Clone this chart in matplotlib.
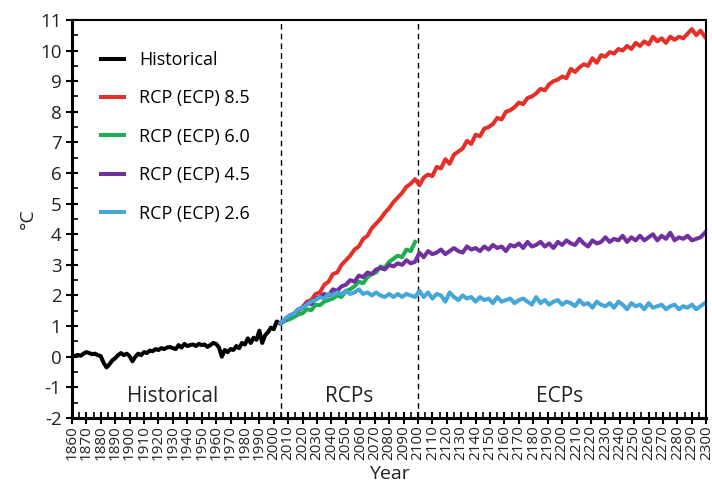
import numpy as np
import matplotlib.pyplot as plt
from matplotlib.ticker import MultipleLocator

# historical, every 2 years 1860-2004
hist_years = np.arange(1860, 2005, 2)
historical = [0.05, 0.02, 0.06, 0.03, 0.10, 0.15, 0.12, 0.08, 0.10, 0.05,
              0.02, -0.20, -0.35, -0.25, -0.12, -0.05, 0.05, 0.12, 0.05, 0.10,
              0.02, -0.15, 0.00, 0.10, 0.05, 0.15, 0.12, 0.20, 0.18, 0.25,
              0.22, 0.28, 0.25, 0.30, 0.32, 0.28, 0.25, 0.38, 0.30, 0.42,
              0.35, 0.38, 0.40, 0.35, 0.42, 0.38, 0.40, 0.32, 0.38, 0.45,
              0.42, 0.30, 0.00, 0.22, 0.15, 0.25, 0.22, 0.35, 0.28, 0.45,
              0.40, 0.60, 0.45, 0.62, 0.55, 0.85, 0.45, 0.70, 0.80, 0.95,
              0.90, 1.15, 1.10]

# projections, every 3 years 2005-2299
proj_years = np.arange(2005, 2300, 3)
rcp85 = [1.10, 1.20, 1.30, 1.35, 1.50, 1.62, 1.80, 1.85, 2.05, 2.10,
         2.35, 2.45, 2.70, 2.75, 3.00, 3.15, 3.30, 3.50, 3.60, 3.85,
         3.95, 4.20, 4.35, 4.50, 4.70, 4.85, 5.05, 5.20, 5.35, 5.55,
         5.65, 5.80, 5.60, 5.85, 5.95, 5.90, 6.20, 6.15, 6.45, 6.30,
         6.60, 6.70, 6.80, 7.05, 6.95, 7.25, 7.20, 7.45, 7.50, 7.60,
         7.80, 7.75, 8.00, 8.05, 8.15, 8.30, 8.25, 8.45, 8.50, 8.60,
         8.75, 8.70, 8.90, 9.00, 9.05, 9.15, 9.10, 9.40, 9.30, 9.45,
         9.55, 9.50, 9.75, 9.60, 9.85, 9.80, 9.95, 9.90, 10.05, 10.00,
         10.15, 10.05, 10.25, 10.15, 10.30, 10.20, 10.45, 10.30, 10.40, 10.25,
         10.45, 10.35, 10.45, 10.40, 10.55, 10.70, 10.50, 10.65, 10.45]
rcp60 = [1.10, 1.18, 1.22, 1.30, 1.38, 1.42, 1.55, 1.52, 1.70, 1.68,
         1.80, 1.85, 1.90, 2.00, 1.95, 2.15, 2.20, 2.30, 2.45, 2.40,
         2.60, 2.70, 2.75, 2.95, 2.90, 3.10, 3.20, 3.30, 3.25, 3.50,
         3.45, 3.75]
rcp45 = [1.10, 1.22, 1.35, 1.40, 1.55, 1.60, 1.75, 1.72, 1.90, 1.95,
         2.05, 2.00, 2.20, 2.15, 2.30, 2.35, 2.50, 2.45, 2.65, 2.60,
         2.75, 2.70, 2.85, 2.90, 2.85, 3.00, 2.95, 3.05, 3.00, 3.15,
         3.05, 3.10, 3.40, 3.25, 3.45, 3.35, 3.40, 3.50, 3.35, 3.45,
         3.55, 3.45, 3.40, 3.60, 3.50, 3.55, 3.45, 3.60, 3.50, 3.65,
         3.55, 3.60, 3.45, 3.65, 3.60, 3.70, 3.55, 3.75, 3.60, 3.65,
         3.75, 3.60, 3.70, 3.55, 3.75, 3.65, 3.80, 3.70, 3.65, 3.85,
         3.70, 3.60, 3.80, 3.70, 3.75, 3.90, 3.75, 3.85, 3.80, 3.95,
         3.75, 3.90, 3.80, 3.95, 3.80, 3.90, 4.00, 3.80, 3.95, 3.85,
         4.05, 3.80, 3.90, 3.85, 3.95, 3.80, 3.85, 3.90, 4.05]
rcp26 = [1.10, 1.25, 1.35, 1.40, 1.55, 1.60, 1.70, 1.80, 1.85, 1.95,
         1.90, 2.05, 2.00, 2.10, 2.05, 2.15, 2.05, 2.10, 2.20, 2.05,
         2.10, 2.00, 2.10, 2.00, 1.95, 2.05, 1.95, 2.05, 1.95, 2.05,
         2.00, 1.95, 2.15, 1.95, 2.10, 1.90, 2.05, 2.00, 1.80, 2.10,
         1.95, 1.85, 2.00, 1.90, 1.95, 1.80, 1.95, 1.85, 1.90, 1.75,
         1.95, 1.80, 1.85, 1.90, 1.75, 1.85, 1.90, 1.80, 1.70, 1.95,
         1.75, 1.85, 1.70, 1.80, 1.85, 1.70, 1.80, 1.75, 1.65, 1.85,
         1.70, 1.75, 1.60, 1.80, 1.70, 1.65, 1.75, 1.60, 1.80, 1.70,
         1.55, 1.75, 1.65, 1.70, 1.55, 1.75, 1.60, 1.65, 1.70, 1.55,
         1.65, 1.70, 1.55, 1.65, 1.60, 1.70, 1.55, 1.65, 1.75]

period_bounds = [2005, 2100]
period_labels = ["Historical", "RCPs", "ECPs"]
period_label_x = [1930, 2052, 2198]

plt.rcParams['font.family'] = ['Open Sans', 'DejaVu Sans']
plt.rcParams['axes.unicode_minus'] = False

fig = plt.figure(figsize=(7.12, 4.86), dpi=100)
ax = fig.add_axes([0.101, 0.140, 0.891, 0.819])

lw = 2.9
ax.plot(hist_years, historical, color="black", lw=lw, label="Historical")
ax.plot(proj_years, rcp85, color="#e5302a", lw=lw, label="RCP (ECP) 8.5")
ax.plot(proj_years[:len(rcp60)], rcp60, color="#1fae4f", lw=lw, label="RCP (ECP) 6.0")
ax.plot(proj_years, rcp45, color="#7030a0", lw=lw, label="RCP (ECP) 4.5")
ax.plot(proj_years, rcp26, color="#45a6d9", lw=lw, label="RCP (ECP) 2.6")

for b in period_bounds:
    ax.axvline(b, color="black", lw=1, ls=(0, (4, 3)), zorder=1)

for lab, x in zip(period_labels, period_label_x):
    ax.text(x, -1.3, lab, ha="center", va="center", fontsize=15, color="#222222")

ax.set_xlim(1860, 2300)
ax.set_ylim(-2, 11)
ax.xaxis.set_major_locator(MultipleLocator(10))
ax.xaxis.set_minor_locator(MultipleLocator(5))
ax.yaxis.set_major_locator(MultipleLocator(1))
ax.yaxis.set_minor_locator(MultipleLocator(0.5))
ax.tick_params(axis="x", which="major", direction="inout", length=8, width=1.5,
               labelsize=11, rotation=90, pad=1, labelcolor="#222222")
ax.tick_params(axis="y", which="major", direction="inout", length=9, width=1.5,
               labelsize=13.5, pad=3, labelcolor="#222222")
ax.tick_params(which="minor", direction="in", length=4, width=1.2)

for side in ["left", "bottom"]:
    ax.spines[side].set_linewidth(2.2)
for side in ["top", "right"]:
    ax.spines[side].set_linewidth(1.5)

ax.set_xlabel("Year", fontsize=14, labelpad=4, color="#222222")
ax.set_ylabel("°C", fontsize=14, labelpad=2, color="#222222")

ax.legend(loc="upper left", frameon=False, fontsize=13, handlelength=1.3,
          labelspacing=1.13, bbox_to_anchor=(0.02, 0.963))

fig.savefig("out.png", dpi=100)
